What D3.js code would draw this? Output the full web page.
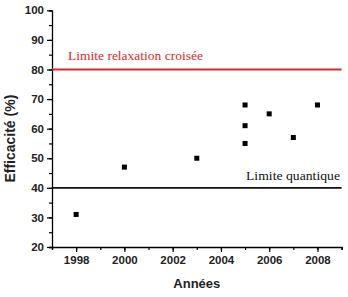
<!DOCTYPE html>
<html><head><meta charset="utf-8">
<script src="https://cdn.jsdelivr.net/npm/d3@7"></script>
<style>body{margin:0;background:#fff}svg{display:block}</style>
</head><body>
<script>
const years = [1998, 2000, 2003, 2005, 2005, 2005, 2006, 2007, 2008];
const efficiency = [31, 47, 50, 68, 61, 55, 65, 57, 68];
const xTicks = [1998, 2000, 2002, 2004, 2006, 2008];
const yTicks = [20, 30, 40, 50, 60, 70, 80, 90, 100];
const limitRelax = 80, limitQuant = 40;
const labelRelax = "Limite relaxation croisée", labelQuant = "Limite quantique";

const SANS = "'Liberation Sans', Arial, Helvetica, sans-serif";
const SERIF = "'Liberation Serif', 'Times New Roman', 'DejaVu Serif', serif";
const W = 348, H = 297;
const m = {l: 52};
const svg = d3.select("body").append("svg").attr("width", W).attr("height", H);
const x = d3.scaleLinear().domain([1997, 2009]).range([m.l, 341.6]);
const y = d3.scaleLinear().domain([20, 100]).range([247, 10.3]);

// x axis
const gx = svg.append("g").attr("transform", `translate(0,${y(20)})`);
gx.call(d3.axisBottom(x).tickValues(d3.range(1997, 2010)).tickSize(3).tickFormat(""));
const gx2 = svg.append("g").attr("transform", `translate(0,${y(20)})`);
gx2.call(d3.axisBottom(x).tickValues(xTicks).tickSize(5).tickFormat(d3.format("d")).tickPadding(4));
gx2.select(".domain").remove();

// y axis
const gy = svg.append("g").attr("transform", `translate(${m.l},0)`);
gy.call(d3.axisLeft(y).tickValues(d3.range(20, 101, 5)).tickSize(3).tickFormat(""));
const gy2 = svg.append("g").attr("transform", `translate(${m.l},0)`);
gy2.call(d3.axisLeft(y).tickValues(yTicks).tickSize(5).tickPadding(3));
gy2.select(".domain").remove();
[gx, gx2, gy, gy2].forEach(g => { g.select(".domain").attr("stroke-width", 1.3); g.selectAll(".tick line").attr("stroke-width", 1.2); });
[gx2, gy2].forEach(g => g.selectAll("text").style("font-family", SANS).style("font-weight", "700").style("font-size", "11.5px").attr("fill", "#222"));

// limit lines
svg.append("line").attr("x1", x(1997)).attr("x2", x(2009)).attr("y1", y(limitRelax)).attr("y2", y(limitRelax))
  .attr("stroke", "#d62a2a").attr("stroke-width", 1.8);
svg.append("line").attr("x1", x(1997)).attr("x2", x(2009)).attr("y1", y(limitQuant)).attr("y2", y(limitQuant))
  .attr("stroke", "#111").attr("stroke-width", 1.8);
svg.append("text").attr("x", 68).attr("y", y(limitRelax) - 9).text(labelRelax)
  .style("font-family", SERIF).style("font-size", "13px").attr("fill", "#d62a2a")
  .attr("textLength", 135).attr("lengthAdjust", "spacingAndGlyphs");
svg.append("text").attr("x", 340).attr("y", y(limitQuant) - 8).text(labelQuant).attr("text-anchor", "end")
  .style("font-family", SERIF).style("font-size", "13px").attr("fill", "#111")
  .attr("textLength", 94).attr("lengthAdjust", "spacingAndGlyphs");

// points
svg.selectAll("rect.pt").data(years.map((yr, i) => [yr, efficiency[i]])).join("rect")
  .attr("class", "pt").attr("x", d => x(d[0]) - 2.5).attr("y", d => y(d[1]) - 2.5)
  .attr("width", 5).attr("height", 5).attr("fill", "#000");

// axis titles
svg.append("text").attr("x", x(2003)).attr("y", 288).attr("text-anchor", "middle").text("Années")
  .style("font-family", SANS).style("font-weight", "700").style("font-size", "13px").attr("fill", "#222");
svg.append("text").attr("transform", `translate(15,${(y(20)+y(100))/2 + 10}) rotate(-90)`).attr("text-anchor", "middle")
  .text("Efficacité (%)").style("font-family", SANS).style("font-weight", "700").style("font-size", "14px").attr("fill", "#222");
</script>
</body></html>
